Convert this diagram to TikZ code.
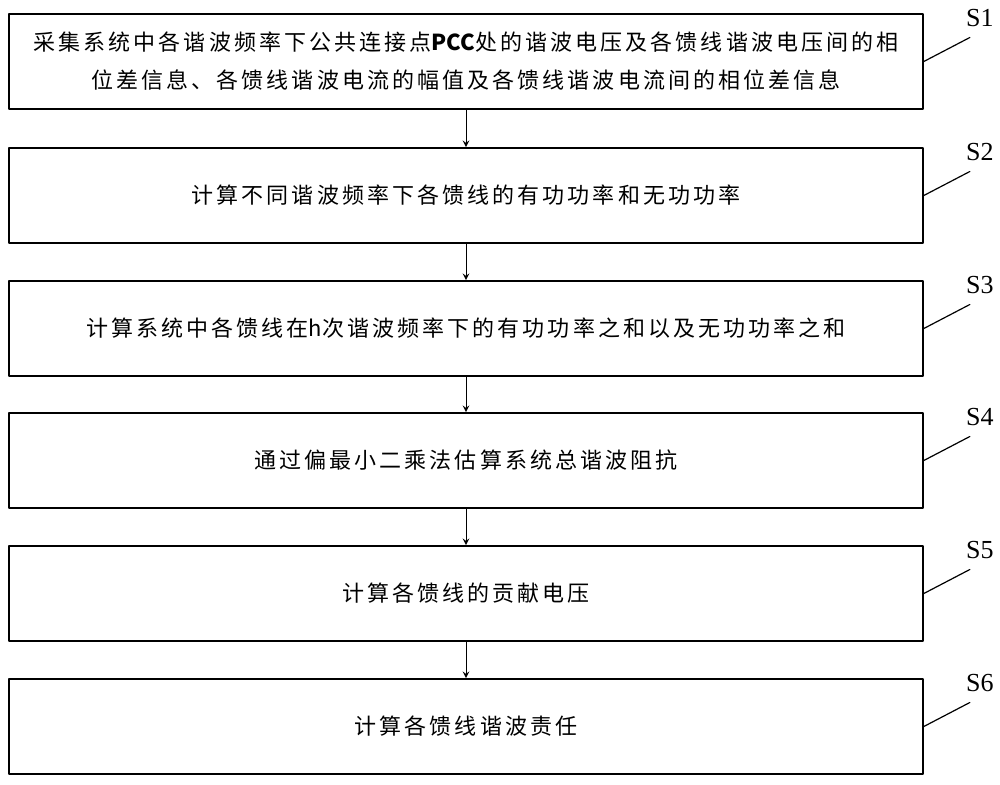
\documentclass[tikz,border=0pt]{standalone}
\usepackage{fontspec}
\setmainfont{Liberation Serif}
\newfontfamily\cjk[LetterSpace=14]{Noto Sans CJK SC}
\newfontfamily\cjkplain{Noto Sans CJK SC}
\usetikzlibrary{positioning}
\begin{document}
\begin{tikzpicture}[x=0.5pt,y=-0.5pt,>=stealth, line join=round, line cap=round,
    stepbox/.style={draw, line width=0.8pt, minimum width=457pt, minimum height=47.5pt,
      align=center, font=\cjk\fontsize{11}{19}\selectfont},
    steplab/.style={font=\fontsize{13}{13}\selectfont, inner sep=0pt}]
    \useasboundingbox (0,0) rectangle (1000,784);
    % flow steps
    \node[stepbox] (s1) at (466,61.5) {采集系统中各谐波频率下公共连接点{\cjkplain\bfseries PCC}处的谐波电压及各馈线谐波电压间的相\\位差信息、各馈线谐波电流的幅值及各馈线谐波电流间的相位差信息};
    \node[stepbox] (s2) at (466,195.5) {计算不同谐波频率下各馈线的有功功率和无功功率};
    \node[stepbox] (s3) at (466,328.5) {计算系统中各馈线在{\cjkplain h}次谐波频率下的有功功率之和以及无功功率之和};
    \node[stepbox] (s4) at (466,460.5) {通过偏最小二乘法估算系统总谐波阻抗};
    \node[stepbox] (s5) at (466,593.5) {计算各馈线的贡献电压};
    \node[stepbox] (s6) at (466,726.5) {计算各馈线谐波责任};
    \foreach \i/\j in {1/2,2/3,3/4,4/5,5/6}
        \draw[->, line width=0.5pt] (s\i) -- (s\j);
    % step labels
    \foreach \i in {1,...,6}{
        \node[steplab] (l\i) at ([xshift=28pt,yshift=21.75pt]s\i.east) {S\i};
        \coordinate (e\i) at ([xshift=23pt,yshift=12pt]s\i.east);
        \draw[line width=0.6pt] (s\i.east) -- (e\i);
    }
\end{tikzpicture}
\end{document}
